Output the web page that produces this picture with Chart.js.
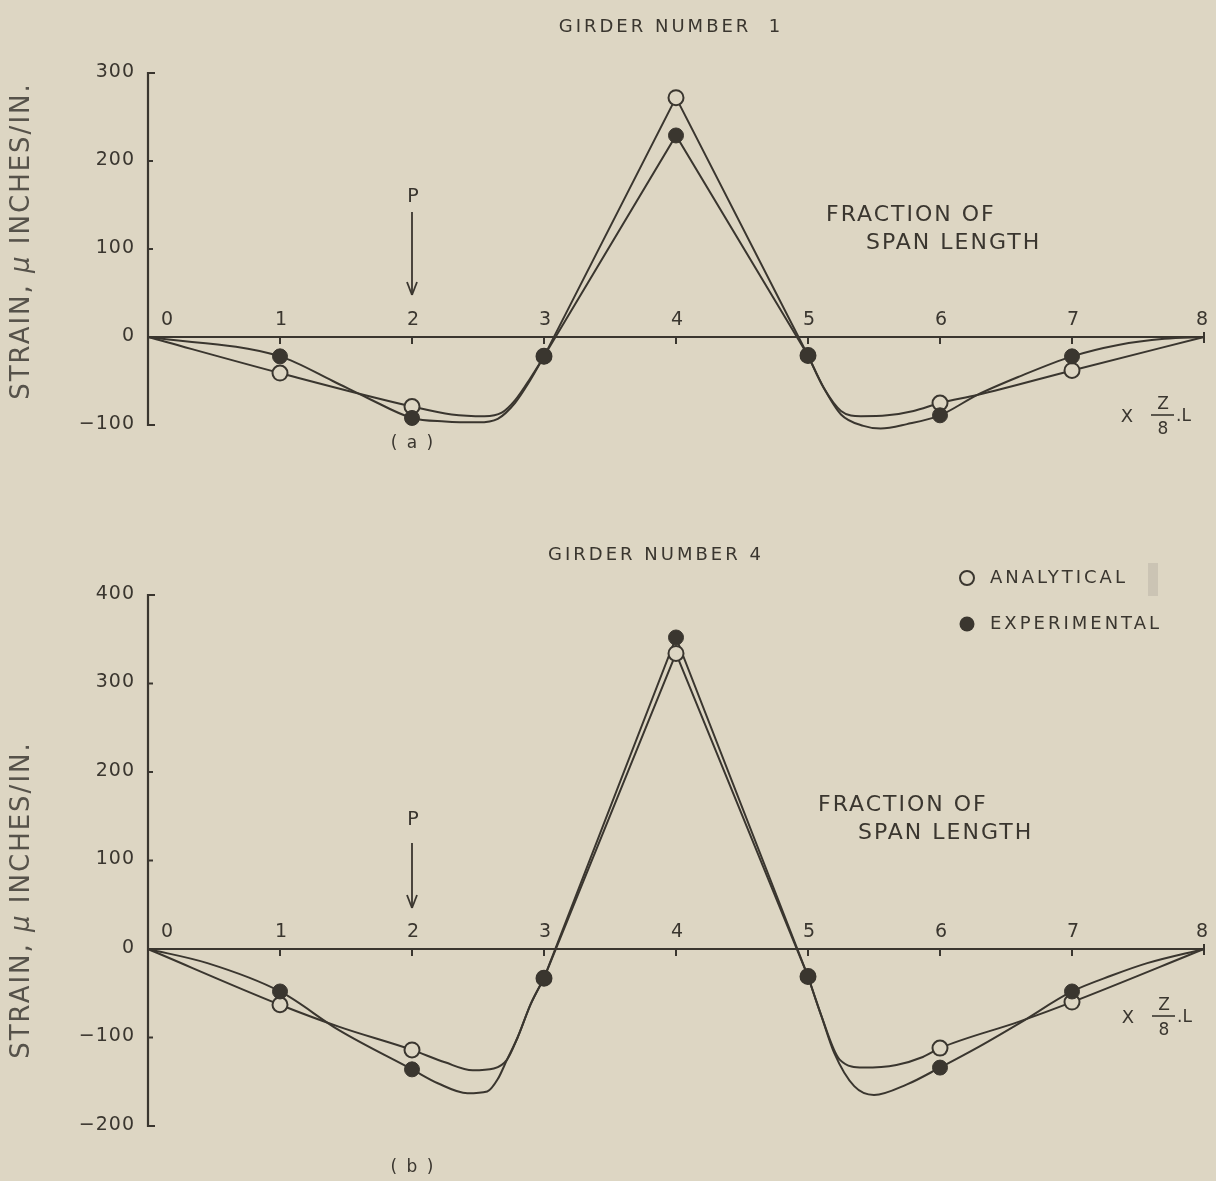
<!DOCTYPE html>
<html>
<head>
<meta charset="utf-8">
<script src="https://cdn.jsdelivr.net/npm/chart.js@4/dist/chart.umd.min.js"></script>
<style>
  html, body { margin: 0; padding: 0; background: #ddd6c3; }
  body { width: 1216px; height: 1181px; position: relative; overflow: hidden; }
  canvas { position: absolute; left: 0; }
  #girder1 { top: 0; }
  #girder4 { top: 520px; }
</style>
</head>
<body>
<canvas id="girder1" width="1216" height="520"></canvas>
<canvas id="girder4" width="1216" height="661"></canvas>
<script>
const ink = '#3a362f';
const paper = '#ddd6c3';
const font = '"DejaVu Sans", "Liberation Sans", sans-serif';

// stations along the span, x (Z/8).L
const markerX = [1, 2, 3, 4, 5, 6, 7];
const xTicks = [0, 1, 2, 3, 4, 5, 6, 7, 8];

// girder number 1, panel (a)
const g1YTicks = [-100, 0, 100, 200, 300];
const g1Analytical = [-41, -79, -22, 272, -21, -75, -38];
const g1Experimental = [-22, -92, -22, 229, -21, -89, -22];
// faired curves (x, strain)
const g1AnalyticalLeft = [[0, 0], [1, -41], [2, -79], [2.3, -88], [2.55, -90], [2.68, -86], [2.78, -72], [2.9, -46], [3, -22]];
const g1AnalyticalRight = [[5, -21], [5.12, -58], [5.25, -84], [5.4, -90], [5.6, -89], [5.8, -84], [6, -75], [6.28, -66], [7, -38], [8, 0]];
const g1ExperimentalLeft = [[0, 0], [1, -22], [1.4, -50], [1.66, -69], [2, -92], [2.25, -96], [2.5, -97], [2.65, -93], [2.78, -75], [2.9, -48], [3, -22]];
const g1ExperimentalRight = [[5, -21], [5.12, -58], [5.25, -88], [5.42, -101], [5.55, -104], [5.75, -99], [6, -89], [6.28, -66], [6.6, -45], [7, -22], [7.35, -9], [7.7, -2], [8, 0]];

// girder number 4, panel (b)
const g4YTicks = [-200, -100, 0, 100, 200, 300, 400];
const g4Analytical = [-63, -114, -33, 334, -31, -112, -60];
const g4Experimental = [-48, -136, -33, 352, -31, -134, -48];
const g4AnalyticalLeft = [[0, 0], [1, -63], [1.45, -88], [2, -114], [2.25, -128], [2.46, -137], [2.62, -135], [2.72, -125], [2.8, -100], [2.9, -62], [3, -33]];
const g4AnalyticalRight = [[5, -31], [5.1, -75], [5.24, -125], [5.42, -134], [5.67, -131], [5.87, -122], [6, -112], [6.6, -82], [7, -60], [8, 0]];
const g4ExperimentalLeft = [[0, 0], [0.45, -16], [1, -48], [1.45, -92], [2, -136], [2.2, -152], [2.42, -163], [2.57, -161], [2.65, -147], [2.72, -125], [2.8, -100], [2.9, -62], [3, -33]];
const g4ExperimentalRight = [[5, -31], [5.1, -75], [5.2, -118], [5.35, -155], [5.5, -165], [5.75, -153], [6, -134], [6.3, -110], [6.6, -84], [7, -48], [7.3, -30], [7.57, -16], [8, 0]];

function pts(xs, ys) { return xs.map((x, i) => ({ x: x, y: ys[i] })); }
function pairs(list) { return list.map(p => ({ x: p[0], y: p[1] })); }

function txt(ctx, s, x, y, px, align, spacing, color, style) {
  ctx.save();
  ctx.font = (style ? style + ' ' : '') + px + 'px ' + font;
  ctx.letterSpacing = (spacing || 0) + 'px';
  ctx.textAlign = align || 'center';
  ctx.textBaseline = 'middle';
  ctx.fillStyle = color || ink;
  ctx.fillText(s, x, y);
  ctx.restore();
}

function width(ctx, s, px, spacing, style) {
  ctx.save();
  ctx.font = (style ? style + ' ' : '') + px + 'px ' + font;
  ctx.letterSpacing = (spacing || 0) + 'px';
  const w = ctx.measureText(s).width;
  ctx.restore();
  return w;
}

function line(ctx, x1, y1, x2, y2, w) {
  ctx.lineWidth = w || 2;
  ctx.beginPath(); ctx.moveTo(x1, y1); ctx.lineTo(x2, y2); ctx.stroke();
}

// axes and lettering drawn the way the old figure does it
const paperPlugin = {
  id: 'paper',
  beforeDatasetsDraw(chart, args, o) {
    const ctx = chart.ctx, xs = chart.scales.x, ys = chart.scales.y;
    ctx.save();
    ctx.strokeStyle = ink;
    ctx.fillStyle = ink;

    const ax = xs.getPixelForValue(0);
    const yT = ys.getPixelForValue(o.yTicks[o.yTicks.length - 1]);
    const yB = ys.getPixelForValue(o.yTicks[0]);
    line(ctx, ax, yT - 1, ax, yB + 1, 2.2);
    o.yTicks.forEach((v, i) => {
      const py = ys.getPixelForValue(v);
      const end = i === 0 || i === o.yTicks.length - 1;
      line(ctx, ax, py, ax + (end ? 7 : 5), py, 2);
      const lab = v < 0 ? '\u2212' + Math.abs(v) : String(v);
      txt(ctx, lab, ax - 13, py - 1, 19, 'right', 1);
    });

    const y0 = ys.getPixelForValue(0);
    const xEnd = xs.getPixelForValue(8);
    line(ctx, ax, y0, xEnd, y0, 2);
    xTicks.forEach(v => {
      const px = xs.getPixelForValue(v);
      if (v > 0 && v < 8) line(ctx, px, y0, px, y0 + 7, 2);
      if (v === 8) line(ctx, px, y0 - 5, px, y0 + 6, 2);
      const lx = v === 0 ? px + 19 : (v === 8 ? px - 2 : px + 1);
      txt(ctx, String(v), lx, y0 - 17, 19, 'center', 0);
    });

    // y axis title, with the Greek mu in italics
    ctx.save();
    ctx.translate(22, o.yTitleY);
    ctx.rotate(-Math.PI / 2);
    const grey = '#56524a';
    const parts = [['STRAIN, ', ''], ['\u03BC', 'italic'], [' INCHES/IN.', '']];
    const total = parts.reduce((s, p) => s + width(ctx, p[0], 26, 2, p[1]), 0);
    let cx = -total / 2;
    parts.forEach(p => {
      txt(ctx, p[0], cx, 0, 26, 'left', 2, grey, p[1]);
      cx += width(ctx, p[0], 26, 2, p[1]);
    });
    ctx.restore();

    // panel title
    txt(ctx, o.title, o.titleX, o.titleY, 18, 'center', 3);

    // load P at station 2
    const p2 = xs.getPixelForValue(2);
    txt(ctx, 'P', p2 + 1, o.pY, 19, 'center', 0);
    line(ctx, p2, o.arrowTop, p2, o.arrowTip, 1.8);
    line(ctx, p2 - 5, o.arrowTip - 13, p2, o.arrowTip, 1.8);
    line(ctx, p2 + 5, o.arrowTip - 13, p2, o.arrowTip, 1.8);

    // axis caption
    txt(ctx, 'FRACTION OF', o.fracX, o.fracY, 22, 'left', 2);
    txt(ctx, 'SPAN LENGTH', o.fracX + 40, o.fracY + 28, 22, 'left', 2);

    // X (Z/8).L
    const zy = o.zY;
    txt(ctx, 'X', o.zX, zy, 18, 'center', 0);
    txt(ctx, 'Z', o.zX + 36, zy - 12, 17, 'center', 0);
    line(ctx, o.zX + 24, zy - 2, o.zX + 47, zy - 2, 1.6);
    txt(ctx, '8', o.zX + 36, zy + 13, 17, 'center', 0);
    txt(ctx, '.L', o.zX + 49, zy, 17, 'left', 0);

    // panel letter
    txt(ctx, o.caption, p2 + 1, o.captionY, 17, 'center', 2);

    if (o.legend) {
      ctx.lineWidth = 2;
      ctx.beginPath(); ctx.arc(967, o.legendY, 7, 0, Math.PI * 2);
      ctx.fillStyle = paper; ctx.fill(); ctx.stroke();
      txt(ctx, 'ANALYTICAL', 990, o.legendY, 18, 'left', 3);
      ctx.fillStyle = ink;
      ctx.beginPath(); ctx.arc(967, o.legendY + 46, 7.5, 0, Math.PI * 2); ctx.fill();
      txt(ctx, 'EXPERIMENTAL', 990, o.legendY + 46, 18, 'left', 3);
      ctx.fillStyle = 'rgba(150,145,135,0.25)';
      ctx.fillRect(1148, o.legendY - 15, 10, 33);
    }
    ctx.restore();
  }
};

function buildDatasets(ana, exp, anaLeft, anaRight, expLeft, expRight) {
  const curve = {
    showLine: true, pointRadius: 0, borderColor: ink, borderWidth: 2,
    cubicInterpolationMode: 'monotone', fill: false, clip: false, order: 3
  };
  const peak = { cubicInterpolationMode: 'default', tension: 0 };
  return [
    { label: 'EXPERIMENTAL', data: pts(markerX, exp), showLine: false, pointRadius: 7.5,
      pointBackgroundColor: ink, pointBorderColor: ink, pointBorderWidth: 1, clip: false, order: 0 },
    { label: 'ANALYTICAL', data: pts(markerX, ana), showLine: false, pointRadius: 7.5,
      pointBackgroundColor: paper, pointBorderColor: ink, pointBorderWidth: 2, clip: false, order: 1 },
    Object.assign({}, curve, { data: pairs(anaLeft) }),
    Object.assign({}, curve, { data: pairs(anaRight) }),
    Object.assign({}, curve, peak, { data: pts(markerX.slice(2, 5), ana.slice(2, 5)) }),
    Object.assign({}, curve, { data: pairs(expLeft) }),
    Object.assign({}, curve, { data: pairs(expRight) }),
    Object.assign({}, curve, peak, { data: pts(markerX.slice(2, 5), exp.slice(2, 5)) })
  ];
}

function makeChart(id, yTicks, datasets, padding, paperOpts) {
  return new Chart(document.getElementById(id).getContext('2d'), {
    type: 'line',
    data: { datasets: datasets },
    options: {
      responsive: false,
      animation: false,
      events: [],
      layout: { padding: padding },
      scales: {
        x: { type: 'linear', min: 0, max: 8, display: false },
        y: { type: 'linear', min: yTicks[0], max: yTicks[yTicks.length - 1], display: false }
      },
      plugins: {
        legend: { display: false },
        tooltip: { enabled: false },
        paper: Object.assign({ yTicks: yTicks }, paperOpts)
      }
    },
    plugins: [paperPlugin]
  });
}

makeChart('girder1', g1YTicks,
  buildDatasets(g1Analytical, g1Experimental, g1AnalyticalLeft, g1AnalyticalRight, g1ExperimentalLeft, g1ExperimentalRight),
  { left: 148, right: 12, top: 73, bottom: 95 },
  { title: 'GIRDER NUMBER  1', titleX: 671, titleY: 27, yTitleY: 241, pY: 197, arrowTop: 212, arrowTip: 295,
    fracX: 826, fracY: 215, zX: 1127, zY: 417, caption: '( a )', captionY: 444, legend: false });

makeChart('girder4', g4YTicks,
  buildDatasets(g4Analytical, g4Experimental, g4AnalyticalLeft, g4AnalyticalRight, g4ExperimentalLeft, g4ExperimentalRight),
  { left: 148, right: 12, top: 75, bottom: 55 },
  { title: 'GIRDER NUMBER 4', titleX: 656, titleY: 35, yTitleY: 380, pY: 300, arrowTop: 323, arrowTip: 388,
    fracX: 818, fracY: 285, zX: 1128, zY: 498, caption: '( b )', captionY: 648, legend: true, legendY: 58 });
</script>
</body>
</html>
